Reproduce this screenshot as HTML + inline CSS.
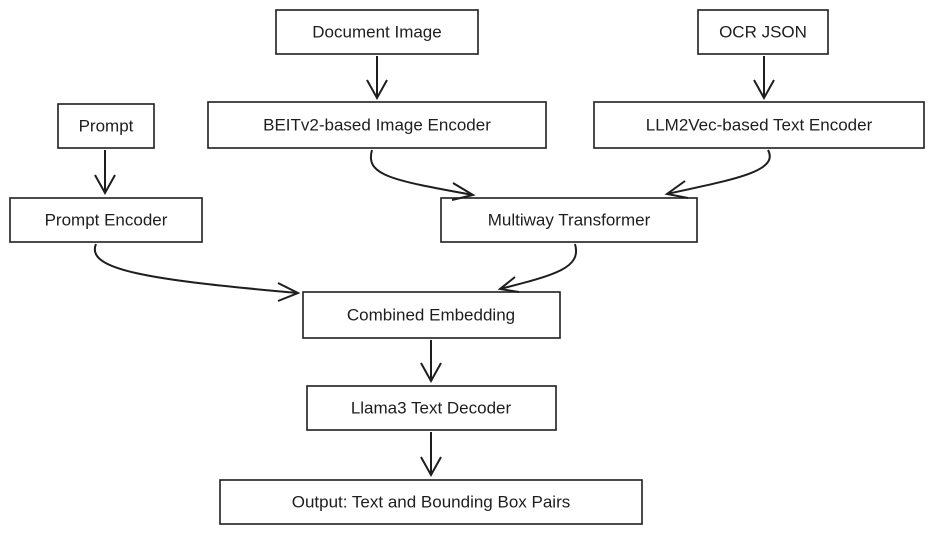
<!DOCTYPE html>
<html><head><meta charset="utf-8"><style>
html,body{margin:0;padding:0;background:#fff;width:941px;height:534px;overflow:hidden}
text{font-family:"Liberation Sans",sans-serif;font-size:17px;fill:#1e1e1e}
</style></head><body>
<svg width="941" height="534" viewBox="0 0 941 534" xmlns="http://www.w3.org/2000/svg">
<g fill="none" stroke="#1e1e1e" stroke-width="1.6">
<rect x="276" y="10" width="202" height="44"/>
<rect x="698" y="10" width="130" height="44"/>
<rect x="58" y="104" width="96" height="44"/>
<rect x="208" y="102" width="338" height="46"/>
<rect x="594" y="102" width="330" height="46"/>
<rect x="10" y="198" width="192" height="44"/>
<rect x="441" y="198" width="256" height="44"/>
<rect x="303" y="292" width="257" height="46"/>
<rect x="307" y="386" width="249" height="44"/>
<rect x="220" y="480" width="422" height="44"/>
<g stroke-width="2">
<path d="M377 56 L377 98 M367 80 L377 98 L387 80"/>
<path d="M764 56 L764 98 M754 80 L764 98 L774 80"/>
<path d="M105 150 L105 193 M95 175 L105 193 L115 175"/>
<path d="M372 150 C365 175 390 180 473 195 M453 183 L473 195 L452 200"/>
<path d="M768 150 C780 172 730 180 667 194 M685 181 L667 194 L688 198"/>
<path d="M96 244 C85 270 150 280 298 293 M278 283 L298 293 L278 301"/>
<path d="M575 244 C582 268 555 275 500 289 M515 277 L500 289 L519 292"/>
<path d="M431 340 L431 381 M421 363 L431 381 L441 363"/>
<path d="M431 432 L431 475 M421 457 L431 475 L441 457"/>
</g></g>
<g text-anchor="middle" dominant-baseline="central">
<text x="377" y="32">Document Image</text>
<text x="763" y="32">OCR JSON</text>
<text x="106" y="126">Prompt</text>
<text x="377" y="125">BEITv2-based Image Encoder</text>
<text x="759" y="125">LLM2Vec-based Text Encoder</text>
<text x="106" y="220">Prompt Encoder</text>
<text x="569" y="220">Multiway Transformer</text>
<text x="431" y="315">Combined Embedding</text>
<text x="431" y="408">Llama3 Text Decoder</text>
<text x="431" y="502">Output: Text and Bounding Box Pairs</text>
</g>
</svg>
</body></html>
